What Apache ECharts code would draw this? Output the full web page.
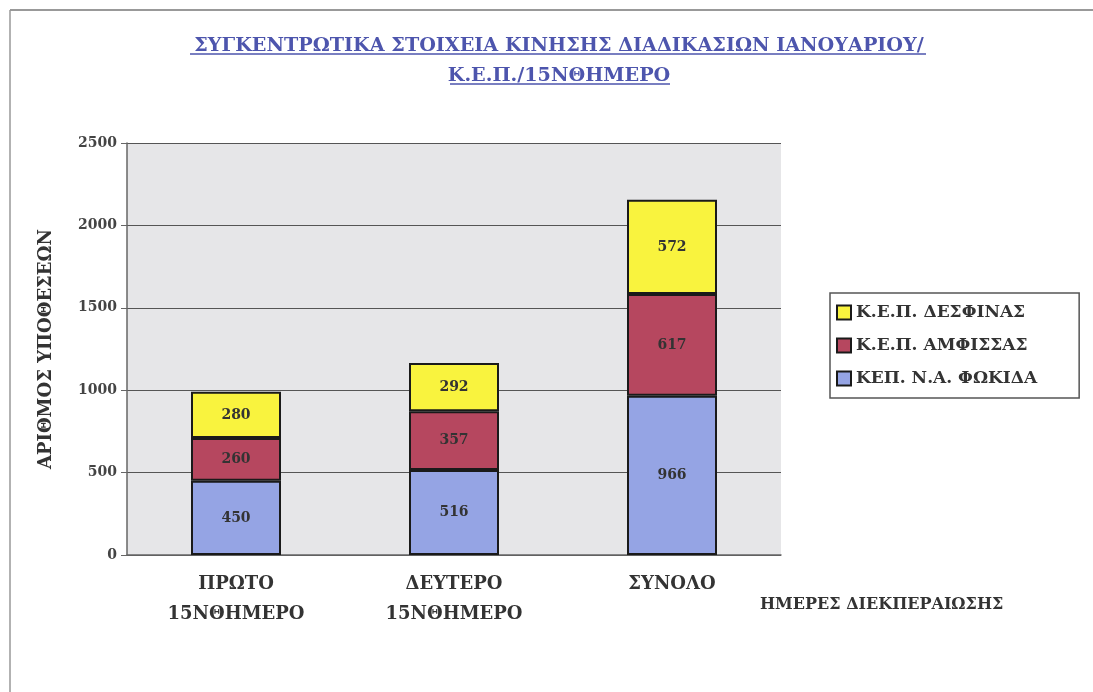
<!DOCTYPE html>
<html>
<head>
	<meta charset="utf-8" />
	<title>ΚΕΠ 15νθήμερο</title>
	<script src="https://cdn.jsdelivr.net/npm/echarts@6/dist/echarts.min.js"></script>
	<style>
		html, body {margin:0;padding:0;background:#fff;}
		#chart {width:1093px;height:692px;}
	</style>
</head>
<body>
	<div id="chart"></div>
	<script>
		var categories = ['ΠΡΩΤΟ\n15ΝΘΗΜΕΡΟ', 'ΔΕΥΤΕΡΟ\n15ΝΘΗΜΕΡΟ', 'ΣΥΝΟΛΟ'];
		var fokida   = [450, 516, 966];   // ΚΕΠ. Ν.Α. ΦΩΚΙΔΑ
		var amfissa  = [260, 357, 617];   // Κ.Ε.Π. ΑΜΦΙΣΣΑΣ
		var desfina  = [280, 292, 572];   // Κ.Ε.Π. ΔΕΣΦΙΝΑΣ
		var yTicks   = [0, 500, 1000, 1500, 2000, 2500];

		var FONT = '"DejaVu Serif", "Liberation Serif", serif';
		var chart = echarts.init(document.getElementById('chart'));

		function bar(name, data, color) {
			return {
				name: name,
				type: 'bar',
				stack: 'total',
				barWidth: 90,
				data: data,
				itemStyle: {color: color, borderColor: '#1a1a1a', borderWidth: 2},
				label: {
					show: true,
					position: 'inside',
					color: '#333',
					fontFamily: FONT,
					fontWeight: 'bold',
					fontSize: 14
				}
			};
		}

		var option = {
			backgroundColor: '#fff',
			textStyle: {fontFamily: FONT},
			title: [
				{
					text: 'ΣΥΓΚΕΝΤΡΩΤΙΚΑ ΣΤΟΙΧΕΙΑ ΚΙΝΗΣΗΣ ΔΙΑΔΙΚΑΣΙΩΝ ΙΑΝΟΥΑΡΙΟΥ/\nΚ.Ε.Π./15ΝΘΗΜΕΡΟ',
					left: 554,
					textAlign: 'center',
					top: 26,
					textStyle: {
						color: '#4d55ad',
						fontFamily: FONT,
						fontWeight: 'bold',
						fontSize: 19.2,
						lineHeight: 30
					}
				},
				{
					text: 'ΗΜΕΡΕΣ ΔΙΕΚΠΕΡΑΙΩΣΗΣ',
					left: 755,
					top: 592,
					textStyle: {color: '#333', fontFamily: FONT, fontWeight: 'bold', fontSize: 16}
				}
			],
			graphic: [
				{type: 'line', shape: {x1: 190, y1: 54, x2: 926, y2: 54}, style: {stroke: '#4d55ad', lineWidth: 1.5}},
				{type: 'line', shape: {x1: 450, y1: 84, x2: 670, y2: 84}, style: {stroke: '#4d55ad', lineWidth: 1.5}},
				{type: 'line', shape: {x1: 10, y1: 10, x2: 1093, y2: 10}, style: {stroke: '#777', lineWidth: 1.5}},
				{type: 'line', shape: {x1: 10, y1: 10, x2: 10, y2: 692}, style: {stroke: '#999', lineWidth: 1.5}}
			],
			legend: {
				orient: 'vertical',
				left: 830,
				top: 293,
				data: ['Κ.Ε.Π. ΔΕΣΦΙΝΑΣ', 'Κ.Ε.Π. ΑΜΦΙΣΣΑΣ', 'ΚΕΠ. Ν.Α. ΦΩΚΙΔΑ'],
				icon: 'rect',
				itemWidth: 14,
				itemHeight: 14,
				itemGap: 16,
				padding: [11, 42, 11, 6],
				borderColor: '#555',
				borderWidth: 1.5,
				backgroundColor: '#fff',
				textStyle: {color: '#333', fontFamily: FONT, fontWeight: 'bold', fontSize: 17}
			},
			grid: {
				left: 127,
				right: 312,
				top: 143,
				bottom: 137,
				show: true,
				backgroundColor: '#e6e6e8',
				borderWidth: 0
			},
			xAxis: {
				type: 'category',
				data: categories,
				axisLine: {lineStyle: {color: '#666', width: 1.5}},
				axisTick: {show: false},
				axisLabel: {
					color: '#333',
					fontFamily: FONT,
					fontWeight: 'bold',
					fontSize: 18,
					lineHeight: 30,
					margin: 14
				}
			},
			yAxis: {
				type: 'value',
				min: yTicks[0],
				max: yTicks[yTicks.length - 1],
				interval: 500,
				name: 'ΑΡΙΘΜΟΣ ΥΠΟΘΕΣΕΩΝ',
				nameLocation: 'middle',
				nameGap: 72,
				nameTextStyle: {color: '#333', fontFamily: FONT, fontWeight: 'bold', fontSize: 18},
				axisLine: {show: true, lineStyle: {color: '#666', width: 1.5}},
				axisTick: {show: true, length: 6, lineStyle: {color: '#666'}},
				axisLabel: {
					color: '#444',
					fontFamily: FONT,
					fontWeight: 'bold',
					fontSize: 14,
					margin: 10,
					formatter: function (v) { return String(v); }
				},
				splitLine: {lineStyle: {color: '#555', width: 1}}
			},
			series: [
				bar('ΚΕΠ. Ν.Α. ΦΩΚΙΔΑ', fokida, '#95a4e4'),
				bar('Κ.Ε.Π. ΑΜΦΙΣΣΑΣ', amfissa, '#b6475f'),
				bar('Κ.Ε.Π. ΔΕΣΦΙΝΑΣ', desfina, '#f9f33e')
			]
		};

		chart.setOption(option);
	</script>
</body>
</html>
